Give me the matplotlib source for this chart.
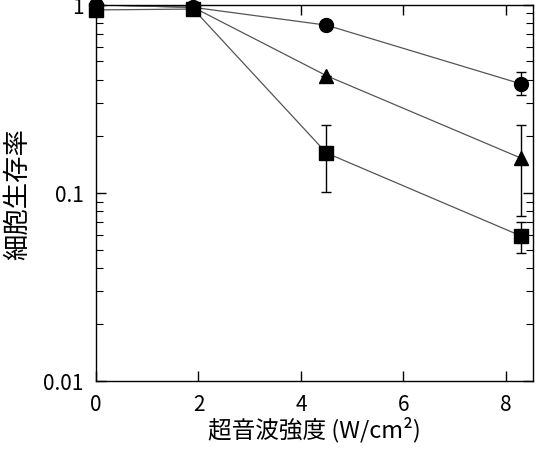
import matplotlib
matplotlib.use("Agg")
import matplotlib.pyplot as plt
from matplotlib.ticker import FixedLocator, LogLocator, NullFormatter

plt.rcParams['font.family'] = ['Noto Sans CJK JP', 'DejaVu Sans']

x = [0, 1.9, 4.5, 8.3]
circle = [1.0, 0.97, 0.78, 0.38]
circle_lo = [0, 0, 0.04, 0.05]
circle_hi = [0, 0, 0.05, 0.06]
triangle = [1.0, 0.97, 0.42, 0.153]
triangle_lo = [0, 0, 0, 0.078]
triangle_hi = [0, 0, 0, 0.077]
square = [0.94, 0.95, 0.163, 0.059]
square_lo = [0, 0, 0.062, 0.011]
square_hi = [0, 0, 0.067, 0.011]

xticks = [0, 2, 4, 6, 8]
yticks = [0.01, 0.1, 1]
yticklabels = ['0.01', '0.1', '1']

fig = plt.figure(figsize=(5.41, 4.52), dpi=100)
ax = fig.add_axes([0.1775, 0.155, 0.8075, 0.832])

series = [(circle, circle_lo, circle_hi, 'o', 10),
          (triangle, triangle_lo, triangle_hi, '^', 10),
          (square, square_lo, square_hi, 's', 10)]
for y, lo, hi, m, ms in series:
    ax.plot(x, y, color='#555555', lw=0.9, zorder=2)
    ax.errorbar(x, y, yerr=[lo, hi], fmt='none', ecolor='black', elinewidth=1.0,
                capsize=3.5, capthick=1.0, zorder=3)
    ax.plot(x, y, ls='none', marker=m, ms=ms, color='black', zorder=4, clip_on=False)

ax.set_yscale('log')
ax.set_xlim(0, 8.53)
ax.set_ylim(0.01, 1)
ax.xaxis.set_major_locator(FixedLocator(xticks))
ax.set_xticklabels([str(t) for t in xticks])
ax.yaxis.set_major_locator(FixedLocator(yticks))
ax.set_yticklabels(yticklabels)
ax.yaxis.set_minor_locator(LogLocator(base=10, subs=range(2, 10)))
ax.yaxis.set_minor_formatter(NullFormatter())

ax.tick_params(which='both', direction='in', top=True, right=True, labelsize=15, pad=9)
ax.tick_params(which='major', length=7, width=1)
ax.tick_params(which='minor', length=5, width=0.8)
for s in ax.spines.values():
    s.set_linewidth(1.0)

ax.set_xlabel('超音波強度 (W/cm²)', fontsize=17, va='center')
ax.set_ylabel('細胞生存率', fontsize=19, va='center')
ax.xaxis.set_label_coords(0.5, -0.128)
ax.yaxis.set_label_coords(-0.18, 0.5)

fig.savefig('out.png', dpi=100)
